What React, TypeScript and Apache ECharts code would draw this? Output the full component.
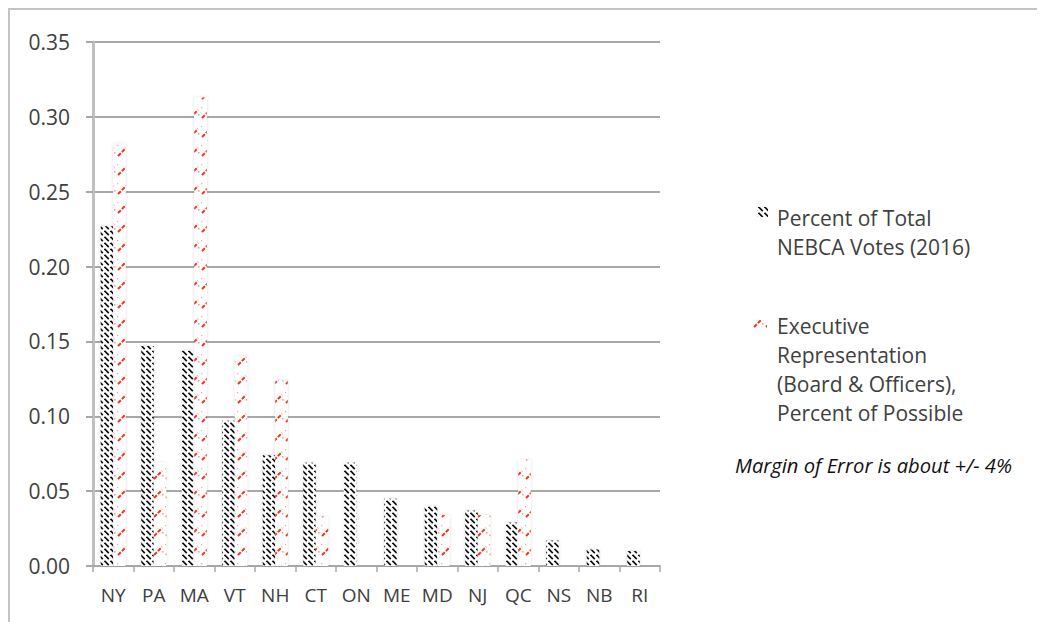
import React, { useEffect, useRef } from "react";
import * as echarts from "echarts";

const categories = ["NY", "PA", "MA", "VT", "NH", "CT", "ON", "ME", "MD", "NJ", "QC", "NS", "NB", "RI"];
const votesShare = [0.227, 0.147, 0.144, 0.097, 0.074, 0.069, 0.069, 0.045, 0.04, 0.037, 0.029, 0.017, 0.011, 0.01];
const execShare = [0.282, 0.069, 0.313, 0.14, 0.124, 0.033, 0, 0, 0.034, 0.034, 0.071, 0, 0, 0];
const yTicks = [0, 0.05, 0.1, 0.15, 0.2, 0.25, 0.3, 0.35];
const seriesNames = ["Percent of Total NEBCA Votes (2016)", "Executive Representation (Board & Officers), Percent of Possible"];
const legendLines1 = ["Percent of Total", "NEBCA Votes (2016)"];
const legendLines2 = ["Executive", "Representation", "(Board & Officers),", "Percent of Possible"];
const noteText = "Margin of Error is about +/- 4%";

function makeBlackPattern(): HTMLCanvasElement {
  const c = document.createElement("canvas");
  c.width = 6;
  c.height = 6;
  const ctx = c.getContext("2d")!;
  ctx.fillStyle = "#ffffff";
  ctx.fillRect(0, 0, 6, 6);
  ctx.strokeStyle = "#111111";
  ctx.lineWidth = 1.7;
  ctx.lineCap = "butt";
  ctx.beginPath();
  ctx.moveTo(0.5, 0.8);
  ctx.lineTo(4.8, 5.1);
  ctx.stroke();
  return c;
}

function makeRedPattern(): HTMLCanvasElement {
  const c = document.createElement("canvas");
  c.width = 12;
  c.height = 19;
  const ctx = c.getContext("2d")!;
  ctx.fillStyle = "#ffffff";
  ctx.fillRect(0, 0, 12, 19);
  ctx.strokeStyle = "#f2361e";
  ctx.lineWidth = 2;
  ctx.setLineDash([4, 1.5]);
  ctx.beginPath();
  ctx.moveTo(2, 15);
  ctx.lineTo(10, 7);
  ctx.stroke();
  ctx.fillStyle = "rgba(240,70,50,0.5)";
  ctx.fillRect(10, 11, 1.6, 1.6);
  ctx.fillRect(1, 4, 1.2, 1.2);
  return c;
}

export default function App() {
  const ref = useRef<HTMLDivElement>(null);
  useEffect(() => {
    if (!ref.current) return;
    const chart = echarts.init(ref.current, undefined, { renderer: "svg" });
    const blackPat = { image: makeBlackPattern(), repeat: "repeat" as const };
    const redPat = { image: makeRedPattern(), repeat: "repeat" as const };
    const font = "'Open Sans', sans-serif";
    const textColor = "#404040";
    const graphics: any[] = [
      {
        type: "rect",
        shape: { x: 1, y: 1, width: 3000, height: 3000 },
        style: { fill: "none", stroke: "#c4c4c4", lineWidth: 2 },
        silent: true,
      },
      {
        type: "rect",
        shape: { x: 749, y: 199, width: 11, height: 10 },
        style: { fill: blackPat as any },
      },
      {
        type: "rect",
        shape: { x: 745, y: 312, width: 14, height: 10 },
        style: { fill: redPat as any },
      },
    ];
    legendLines1.forEach((t, i) => {
      graphics.push({
        type: "text",
        x: 769,
        y: 210 + i * 28.5,
        style: { text: t, font: `21px ${font}`, fill: textColor, textVerticalAlign: "middle" },
      });
    });
    legendLines2.forEach((t, i) => {
      graphics.push({
        type: "text",
        x: 769,
        y: 318 + i * 29,
        style: { text: t, font: `21px ${font}`, fill: textColor, textVerticalAlign: "middle" },
      });
    });
    graphics.push({
      type: "text",
      x: 727,
      y: 457,
      style: { text: noteText, font: `italic 20.2px ${font}`, fill: "#111111", textVerticalAlign: "middle" },
    });

    chart.setOption({
      animation: false,
      backgroundColor: "#ffffff",
      grid: { left: 85, right: 385, top: 34, bottom: 56, containLabel: false },
      xAxis: {
        type: "category",
        data: categories,
        axisLine: { show: true, lineStyle: { color: "#a8a8a8", width: 2 } },
        axisTick: { show: true, interval: 0, length: 6, lineStyle: { color: "#a8a8a8", width: 1.5 } },
        axisLabel: { interval: 0, hideOverlap: false, color: textColor, fontFamily: font, fontSize: 19, margin: 19 },
      },
      yAxis: {
        type: "value",
        min: 0,
        max: 0.35,
        interval: 0.05,
        axisLine: { show: true, lineStyle: { color: "#c0c0c0", width: 3 } },
        axisTick: { show: true, length: 7, lineStyle: { color: "#a8a8a8", width: 2 } },
        splitLine: { show: true, lineStyle: { color: "#a8a8a8", width: 2 } },
        axisLabel: {
          color: textColor,
          fontFamily: font,
          fontSize: 21,
          margin: 23,
          formatter: (v: number) => (yTicks.some((t) => Math.abs(t - v) < 1e-9) ? v.toFixed(2) : ""),
        },
      },
      series: [
        {
          name: seriesNames[0],
          type: "bar",
          data: votesShare,
          barWidth: 12.5,
          barGap: "0%",
          itemStyle: { color: blackPat as any, shadowColor: "rgba(0,0,0,0.15)", shadowBlur: 3 },
        },
        {
          name: seriesNames[1],
          type: "bar",
          data: execShare,
          barWidth: 12.5,
          barGap: "0%",
          itemStyle: { color: redPat as any, shadowColor: "rgba(0,0,0,0.15)", shadowBlur: 3 },
        },
      ],
      graphic: graphics,
    });
    return () => chart.dispose();
  }, []);
  return <div ref={ref} style={{ width: 1037, height: 614 }} />;
}
